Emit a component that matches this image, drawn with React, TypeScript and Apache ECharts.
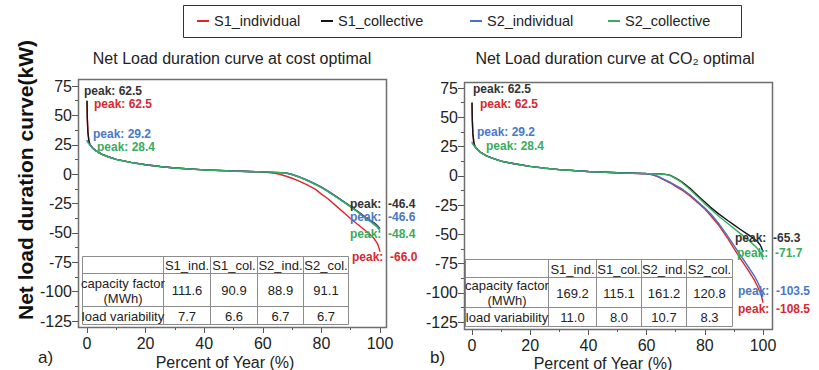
import React, { useEffect, useRef } from "react";
import * as echarts from "echarts";

// ---------- data ----------
const seriesNames = ["S1_individual", "S1_collective", "S2_individual", "S2_collective"];
const lineColors = ["#e0262b", "#141414", "#4472c4", "#37ad5f"];
const labelColors = ["#d7282f", "#333333", "#4a78c6", "#3aab5e"];

const percentOfYear = [0, 0.1, 0.3, 0.6, 1, 2, 3, 5, 7, 10, 15, 20, 25, 30, 40, 50, 60, 62, 64, 66, 68, 70, 72, 75, 78, 80, 82, 85, 88, 90, 92, 95, 97, 98, 99, 99.5, 100];

// cost optimal
const costS1Individual = [62.5, 48, 36, 29, 25, 22, 20, 17, 15, 12.5, 10, 8, 6.5, 5.2, 3.6, 2.6, 1.8, 1.4, 0.8, -0.3, -1.8, -3.5, -5.5, -9, -13, -17, -20.5, -27, -33.5, -38, -42, -48, -52.5, -55, -58.5, -61.5, -66.0];
const costS1Collective = [62.5, 48, 36, 29, 25, 22, 20, 17, 15, 12.5, 10, 8, 6.5, 5.2, 3.6, 2.6, 1.9, 1.7, 1.5, 1.3, 1.0, -0.3, -2, -5, -8.5, -11, -14, -19, -24, -27.5, -31, -36.5, -40, -41.5, -43.5, -45, -46.4];
const costS2Individual = [29.2, 28.2, 27.3, 26.2, 25, 22, 20, 17, 15, 12.5, 10, 8, 6.5, 5.2, 3.6, 2.6, 1.9, 1.7, 1.5, 1.3, 1.0, -0.3, -2, -5, -8.5, -11.2, -14.2, -19.2, -24.3, -27.8, -31.4, -37, -40.5, -42, -44, -45.3, -46.6];
const costS2Collective = [28.4, 27.8, 27.0, 26.0, 24.8, 21.8, 19.8, 16.8, 14.8, 12.4, 9.9, 7.9, 6.4, 5.1, 3.5, 2.5, 1.9, 1.7, 1.5, 1.2, 0.9, -0.4, -2.2, -5.3, -9, -11.5, -14.5, -19.5, -24.5, -28, -31.5, -37.5, -41, -43, -45, -46.5, -48.4];

// CO2 optimal
const co2S1Individual = [62.5, 48, 36, 29, 25, 22, 20, 17, 15, 12.5, 10, 8, 6.5, 5.2, 3.6, 2.6, 1.6, 0.8, -1, -3.5, -6, -9, -12, -17.5, -24, -28.5, -34, -43, -54, -62, -70, -81, -89, -94, -99.5, -103, -108.5];
const co2S1Collective = [62.5, 48, 36, 29, 25, 22, 20, 17, 15, 12.5, 10, 8, 6.5, 5.2, 3.6, 2.6, 1.9, 1.8, 1.6, 1.4, 0.5, -2, -5, -11, -18, -22.5, -27, -33, -38.5, -42, -45.5, -50.5, -54, -56, -59, -61.5, -65.3];
const co2S2Individual = [29.2, 28.2, 27.3, 26.2, 25, 22, 20, 17, 15, 12.5, 10, 8, 6.5, 5.2, 3.6, 2.6, 1.7, 1.0, -0.6, -3, -5.5, -8.3, -11, -16.5, -23, -27.5, -32.5, -41.5, -52, -59.5, -67, -78, -85.5, -90, -95.5, -99, -103.5];
const co2S2Collective = [28.4, 27.8, 27.0, 26.0, 24.8, 21.8, 19.8, 16.8, 14.8, 12.4, 9.9, 7.9, 6.4, 5.1, 3.5, 2.5, 1.8, 1.7, 1.5, 1.3, 0.3, -2.5, -5.5, -12, -19, -24, -28.5, -35, -41, -45, -49, -55, -59.5, -62, -65.5, -68, -71.7];

// peak annotations (max, min) per series order
const costPeakMax = [62.5, 62.5, 29.2, 28.4];
const costPeakMin = [-66.0, -46.4, -46.6, -48.4];
const co2PeakMax = [62.5, 62.5, 29.2, 28.4];
const co2PeakMin = [-108.5, -65.3, -103.5, -71.7];

// tables
const tableHeaders = ["S1_ind.", "S1_col.", "S2_ind.", "S2_col."];
const rowCapacityLabel = "capacity factor\n(MWh)";
const rowVariabilityLabel = "load variability";
const costCapacity = [111.6, 90.9, 88.9, 91.1];
const costVariability = [7.7, 6.6, 6.7, 6.7];
const co2Capacity = [169.2, 115.1, 161.2, 120.8];
const co2Variability = [11.0, 8.0, 10.7, 8.3];

const xTicks = { min: 0, max: 100, interval: 20 };
const yTicks = { min: -125, max: 75, interval: 25 };

const titles = ["Net Load duration curve at cost optimal", "Net Load duration curve at CO\u2082 optimal"];
const yAxisTitle = "Net load duration curve(kW)";
const xAxisTitle = "Percent of Year (%)";
const panelTags = ["a)", "b)"];

// ---------- layout ----------
const FONT = "'Liberation Sans', Arial, Helvetica, sans-serif";
const legendBox = { x: 183, y: 5, w: 558, h: 32 };
const legendItemLeft = [197, 321, 470, 608];
const panels = [
  {
    grid: { left: 87, top: 86, width: 293, height: 235 },
    frame: { x: 78, y: 79, w: 308, h: 248 },
    xOffset: 6, yOffset: 9,
    title: { x: 232, y: 58 },
    xName: { x: 225, y: 362 },
    tag: { x: 38, y: 357 },
    table: { xs: [82, 163, 210, 257, 303, 348], ys: [256, 273, 306, 324] },
    maxLabels: [{ x: 94, y: 104 }, { x: 84, y: 91 }, { x: 93, y: 134 }, { x: 97, y: 147 }],
    minLabels: [{ x: 352, y: 257 }, { x: 350, y: 204 }, { x: 350, y: 217 }, { x: 350, y: 234 }],
  },
  {
    grid: { left: 472, top: 88, width: 291, height: 234 },
    frame: { x: 464, y: 82, w: 308, h: 247 },
    xOffset: 7, yOffset: 8,
    title: { x: 615, y: 58 },
    xName: { x: 603, y: 363 },
    tag: { x: 430, y: 357 },
    table: { xs: [465, 548, 596, 641, 686, 732], ys: [259, 277, 307, 326] },
    maxLabels: [{ x: 480, y: 104 }, { x: 473, y: 89 }, { x: 477, y: 132 }, { x: 486, y: 146 }],
    minLabels: [{ x: 738, y: 309 }, { x: 735, y: 238 }, { x: 738, y: 291 }, { x: 737, y: 253 }],
  },
];

const panelSeries = [
  [costS1Individual, costS1Collective, costS2Individual, costS2Collective],
  [co2S1Individual, co2S1Collective, co2S2Individual, co2S2Collective],
];
const panelPeakMax = [costPeakMax, co2PeakMax];
const panelPeakMin = [costPeakMin, co2PeakMin];
const panelTables = [
  { cap: costCapacity, vari: costVariability },
  { cap: co2Capacity, vari: co2Variability },
];

function txt(x: number, y: number, text: string, font: string, fill: string, align = "left", extra: any = {}) {
  return {
    type: "text",
    x,
    y,
    silent: true,
    z: 100,
    ...extra,
    style: {
      text,
      font,
      fill,
      textAlign: align,
      textVerticalAlign: "middle",
      align,
      verticalAlign: "middle",
      ...(extra.style || {}),
    },
  };
}

function buildTable(t: { xs: number[]; ys: number[] }, cap: number[], vari: number[]) {
  const els: any[] = [];
  const { xs, ys } = t;
  const stroke = "#8c8c8c";
  els.push({
    type: "rect",
    z: 90,
    silent: true,
    shape: { x: xs[0] + 0.5, y: ys[0] + 0.5, width: xs[5] - xs[0], height: ys[3] - ys[0] },
    style: { fill: "#ffffff", stroke, lineWidth: 1 },
  });
  for (let i = 1; i < xs.length - 1; i++) {
    els.push({ type: "line", z: 91, silent: true, shape: { x1: xs[i] + 0.5, y1: ys[0], x2: xs[i] + 0.5, y2: ys[3] }, style: { stroke, lineWidth: 1 } });
  }
  for (let j = 1; j < ys.length - 1; j++) {
    els.push({ type: "line", z: 91, silent: true, shape: { x1: xs[0], y1: ys[j] + 0.5, x2: xs[5], y2: ys[j] + 0.5 }, style: { stroke, lineWidth: 1 } });
  }
  const f = `13px ${FONT}`;
  const col = "#222";
  const cy = (j: number) => (ys[j] + ys[j + 1]) / 2 + 1;
  const cx = (i: number) => (xs[i] + xs[i + 1]) / 2 + 0.5;
  tableHeaders.forEach((h, i) => els.push(txt(cx(i + 1), cy(0), h, f, col, "center")));
  els.push(txt(cx(0), cy(1), rowCapacityLabel, f, col, "center", { style: { lineHeight: 15 } }));
  els.push(txt(cx(0), cy(2), rowVariabilityLabel, f, col, "center"));
  cap.forEach((v, i) => els.push(txt(cx(i + 1), cy(1), v.toFixed(1), f, col, "center")));
  vari.forEach((v, i) => els.push(txt(cx(i + 1), cy(2), v.toFixed(1), f, col, "center")));
  return els;
}

export default function App() {
  const ref = useRef<HTMLDivElement>(null);

  useEffect(() => {
    if (!ref.current) return;
    document.body.style.margin = "0";
    const chart = echarts.init(ref.current, undefined, { renderer: "svg" });

    const series: any[] = [];
    panelSeries.forEach((group, p) => {
      group.forEach((vals, s) => {
        series.push({
          name: seriesNames[s],
          type: "line",
          xAxisIndex: p,
          yAxisIndex: p,
          showSymbol: false,
          symbol: "none",
          color: lineColors[s],
          lineStyle: { width: 1.4, color: lineColors[s] },
          z: 2 + s,
          data: percentOfYear.map((x, i) => [x, vals[i]]),
        });
      });
    });

    const graphic: any[] = [];
    graphic.push({
      type: "rect",
      z: 95,
      silent: true,
      shape: { x: legendBox.x + 0.5, y: legendBox.y + 0.5, width: legendBox.w, height: legendBox.h },
      style: { fill: "none", stroke: "#333", lineWidth: 1 },
    });
    panels.forEach((pn, p) => {
      graphic.push({
        type: "rect",
        z: 95,
        silent: true,
        shape: { x: pn.frame.x + 0.5, y: pn.frame.y + 0.5, width: pn.frame.w, height: pn.frame.h },
        style: { fill: "none", stroke: "#6e6e6e", lineWidth: 1.5 },
      });
      graphic.push(txt(pn.title.x, pn.title.y, titles[p], `16px ${FONT}`, "#222", "center"));
      graphic.push(txt(pn.xName.x, pn.xName.y, xAxisTitle, `16px ${FONT}`, "#222", "center"));
      graphic.push(txt(pn.tag.x, pn.tag.y, panelTags[p], `17px ${FONT}`, "#222", "left"));
      graphic.push(...buildTable(pn.table, panelTables[p].cap, panelTables[p].vari));
      panelPeakMax[p].forEach((v, s) => {
        const pos = pn.maxLabels[s];
        graphic.push(txt(pos.x, pos.y, `peak: ${v.toFixed(1)}`, `bold 12px ${FONT}`, labelColors[s], "left"));
      });
      panelPeakMin[p].forEach((v, s) => {
        const pos = pn.minLabels[s];
        graphic.push(txt(pos.x, pos.y, `peak:  ${v.toFixed(1)}`, `bold 12px ${FONT}`, labelColors[s], "left"));
      });
    });
    graphic.push(
      txt(25, 180, yAxisTitle, `bold 21px ${FONT}`, "#111", "center", { rotation: Math.PI / 2 })
    );

    const axisCommon = {
      type: "value",
      axisLine: { show: false, onZero: false },
      splitLine: { show: false },
      axisTick: { show: true, length: 6, lineStyle: { color: "#555", width: 1 } },
      minorTick: { show: true, splitNumber: 2, length: 3, lineStyle: { color: "#555", width: 1 } },
      minorSplitLine: { show: false },
    };

    chart.setOption({
      animation: false,
      color: lineColors,
      textStyle: { fontFamily: FONT },
      legend: seriesNames.map((name, i) => ({
        data: [name],
        left: legendItemLeft[i],
        top: 12,
        padding: 0,
        itemWidth: 12,
        itemHeight: 2,
        itemGap: 0,
        icon: "rect",
        textStyle: { fontSize: 14.5, color: "#222", fontFamily: FONT, lineHeight: 18 },
      })),
      grid: panels.map((pn) => ({ ...pn.grid, containLabel: false })),
      xAxis: panels.map((pn, p) => ({
        ...axisCommon,
        gridIndex: p,
        ...xTicks,
        offset: pn.xOffset,
        axisLabel: { fontSize: 16, color: "#222", margin: 8, fontFamily: FONT },
      })),
      yAxis: panels.map((pn, p) => ({
        ...axisCommon,
        gridIndex: p,
        ...yTicks,
        offset: pn.yOffset,
        axisLabel: { fontSize: 16, color: "#222", margin: 6, fontFamily: FONT },
      })),
      series,
      graphic,
    });

    return () => chart.dispose();
  }, []);

  return (
    <div
      ref={ref}
      style={{ position: "fixed", left: 0, top: 0, width: 819, height: 370, background: "#fff" }}
    />
  );
}
